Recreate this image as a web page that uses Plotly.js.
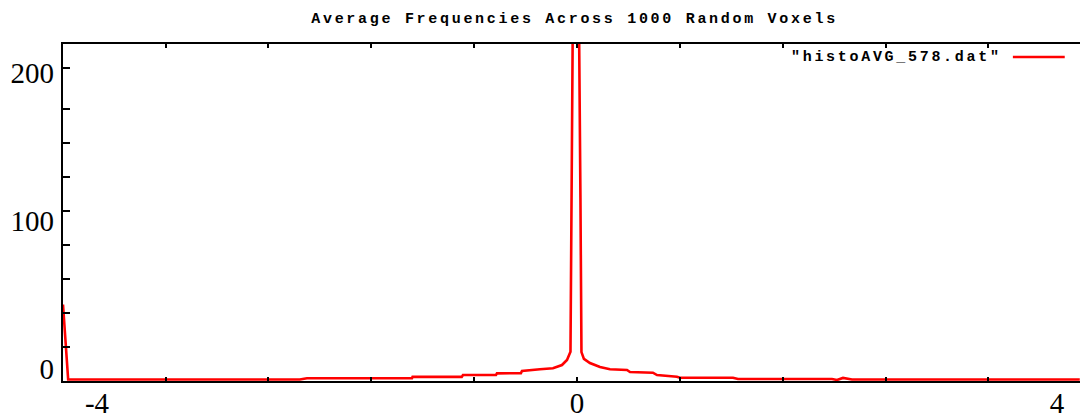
<!DOCTYPE html>
<html>
<head>
<meta charset="utf-8">
<script src="https://cdn.plot.ly/plotly-3.0.1.min.js"></script>
<style>
  html, body { margin: 0; padding: 0; background: #fff; overflow: hidden; }
  .gtitle, .annotation-text { letter-spacing: 2.7px; }
</style>
</head>
<body>
<div id="chart" style="width:1080px;height:419px;"></div>
<script>
// Values
const binCenters = [
  -4.283, -4.24, -2.31, -2.25, -1.375, -1.37, -0.96, -0.95, -0.675, -0.667,
  -0.467, -0.458, -0.308, -0.2, -0.125, -0.083, -0.054, -0.044, -0.037, -0.027,
  0.008, 0.025, 0.029, 0.0375, 0.058, 0.108, 0.192, 0.275, 0.417, 0.442,
  0.633, 0.667, 0.833, 0.858, 1.3, 1.342, 2.125, 2.167, 2.217, 2.292, 4.19
];
const avgFrequency = [
  45, 0.9, 0.9, 1.6, 1.6, 2.4, 2.4, 3.5, 3.5, 4.5,
  4.6, 5.9, 6.9, 7.5, 9.4, 12.4, 17.2, 108, 168, 290,
  290, 168, 108, 17, 13, 10.6, 8.2, 6.9, 6.5, 5.3,
  4.9, 3.5, 2.5, 1.9, 1.9, 1.2, 1.2, 0.6, 1.8, 0.9, 0.9
];
const seriesName = '"histoAVG_578.dat"';
const chartTitle = 'Average Frequencies Across 1000 Random Voxels';
const xLabelValues = [-4, 0, 4];
const yLabelValues = [0, 100, 200];
const yTickMarks = [20, 40, 60, 80, 100, 120, 140, 160, 184];

const xRange = [-4.283, 4.192];

const traces = [
  {
    x: binCenters, y: avgFrequency, type: 'scatter', mode: 'lines',
    name: seriesName, line: {color: '#ff0000', width: 2.6},
    xaxis: 'x', yaxis: 'y', showlegend: false
  },
  { x: [], y: [], type: 'scatter', mode: 'lines', xaxis: 'x2', yaxis: 'y2',
    showlegend: false, hoverinfo: 'skip' }
];

const labelFont = {family: '"Liberation Serif", "Times New Roman", serif', size: 29, color: '#000'};
const monoFont = {family: '"Liberation Mono", "Courier New", monospace', size: 15, color: '#000', weight: 'bold'};

const layout = {
  width: 1080, height: 419,
  margin: {l: 63, r: 0, t: 44, b: 38, pad: 0},
  paper_bgcolor: '#fff', plot_bgcolor: '#fff',
  showlegend: false,
  title: {text: chartTitle, font: monoFont, x: 0.532, xref: 'container', xanchor: 'center',
          y: 0.957, yref: 'container', yanchor: 'middle'},
  xaxis: {
    range: xRange, showgrid: false, zeroline: false,
    showline: true, linecolor: '#000', linewidth: 2, mirror: 'ticks',
    ticks: 'inside', tick0: 0, dtick: 6/7, ticklen: 4, tickwidth: 2, tickcolor: '#000',
    showticklabels: false
  },
  yaxis: {
    range: [0, 198.2], showgrid: false, zeroline: false,
    showline: true, linecolor: '#000', linewidth: 2, mirror: false,
    ticks: 'inside', tickmode: 'array', tickvals: yTickMarks, ticklen: 7, tickwidth: 2, tickcolor: '#000',
    showticklabels: false
  },
  xaxis2: {
    overlaying: 'x', anchor: 'y', side: 'bottom', range: xRange,
    showgrid: false, zeroline: false, showline: false, ticks: '',
    tickmode: 'array', tickvals: xLabelValues, ticktext: xLabelValues.map(String),
    tickfont: labelFont, ticklabelstandoff: 2
  },
  yaxis2: {
    overlaying: 'y', anchor: 'x', side: 'left', range: [-8.1, 219.6],
    showgrid: false, zeroline: false, showline: false, ticks: '',
    tickmode: 'array', tickvals: yLabelValues, ticktext: yLabelValues.map(String),
    tickfont: labelFont, ticklabelstandoff: 8
  },
  annotations: [
    {text: seriesName, xref: 'paper', yref: 'paper', x: 0.820, y: 0.9614,
     xanchor: 'center', yanchor: 'middle', showarrow: false, font: monoFont}
  ],
  shapes: [
    {type: 'line', xref: 'paper', yref: 'paper', x0: 0.934, x1: 0.985, y0: 0.9614, y1: 0.9614,
     line: {color: '#ff0000', width: 2.6}}
  ]
};

Plotly.newPlot('chart', traces, layout, {staticPlot: true, displayModeBar: false});
</script>
</body>
</html>
